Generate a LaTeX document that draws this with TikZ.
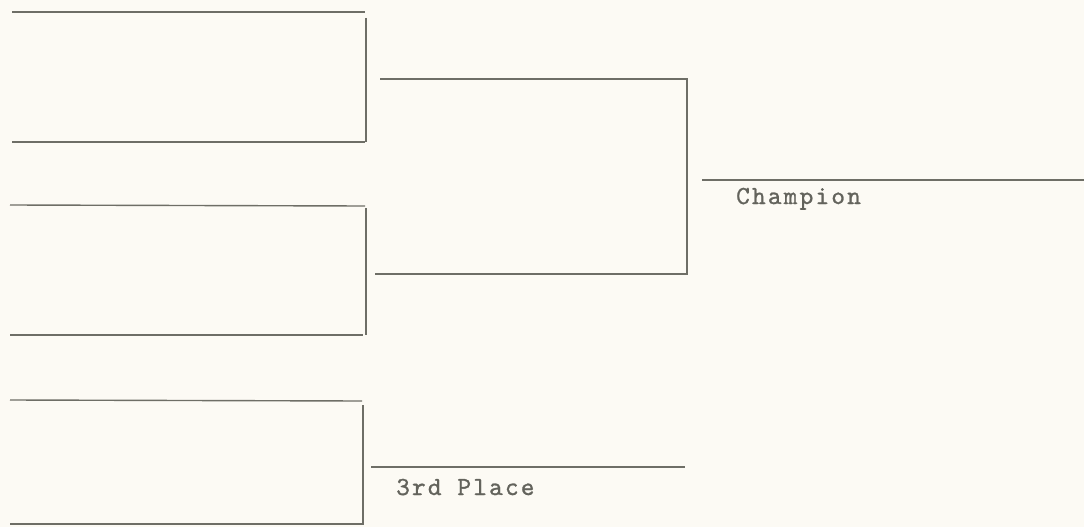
\documentclass[tikz,border=0pt]{standalone}
\usepackage{fontspec}
\usepackage{xcolor}
\usepackage{tikz}
\definecolor{paper}{HTML}{FCFAF4}
\definecolor{ink}{HTML}{6E6E66}
\newfontfamily\typefont{lmmono10-regular.otf}[LetterSpace=8.5,FakeBold=1]

\begin{document}
\begin{tikzpicture}[
    x=1pt,y=-1pt,
    rule/.style={draw=ink,line width=1.4pt},
    prizetext/.style={font=\typefont\fontsize{26}{30}\selectfont,text=ink!90!black,inner sep=0pt,anchor=base west}
  ]
    \fill[paper] (0,0) rectangle (1084,527);
    \useasboundingbox (0,0) rectangle (1084,527);
    % first round, top pair
    \coordinate (s1a) at (12,12);   \coordinate (s1b) at (365,12);
    \coordinate (s2a) at (12,142);  \coordinate (s2b) at (365,142);
    \coordinate (v1a) at (366,18);  \coordinate (v1b) at (366,142);
    % first round, middle pair
    \coordinate (s3a) at (10,205);  \coordinate (s3b) at (365,206);
    \coordinate (s4a) at (10,335);  \coordinate (s4b) at (363,335);
    \coordinate (v2a) at (366,208); \coordinate (v2b) at (366,335);
    % final
    \coordinate (w1a) at (380,79);  \coordinate (w1b) at (687,79);
    \coordinate (w2a) at (375,274); \coordinate (w2b) at (687,274);
    \coordinate (ca) at (702,180);  \coordinate (cb) at (1084,180);
    % third place pair
    \coordinate (s5a) at (10,400);  \coordinate (s5b) at (362,401);
    \coordinate (s6a) at (10,524);  \coordinate (s6b) at (362,524);
    \coordinate (v4a) at (363,405); \coordinate (v4b) at (363,525);
    \coordinate (ta) at (371,467);  \coordinate (tb) at (685,467);

    \node[prizetext] (champ) at (736,204) {Champion};
    \node[prizetext] (third) at (396,495) {3rd Place};

    \draw[rule] (s1a) -- (s1b);
    \draw[rule] (s2a) -- (s2b);
    \draw[rule] (v1a) -- (v1b);
    \draw[rule] (s3a) -- (s3b);
    \draw[rule] (s4a) -- (s4b);
    \draw[rule] (v2a) -- (v2b);
    \draw[rule] (w1a) -- (w1b) -- (w2b) -- (w2a);
    \draw[rule] (ca) -- (cb);
    \draw[rule] (s5a) -- (s5b);
    \draw[rule] (s6a) -- (s6b);
    \draw[rule] (v4a) -- (v4b);
    \draw[rule] (ta) -- (tb);
  \end{tikzpicture}
\end{document}
